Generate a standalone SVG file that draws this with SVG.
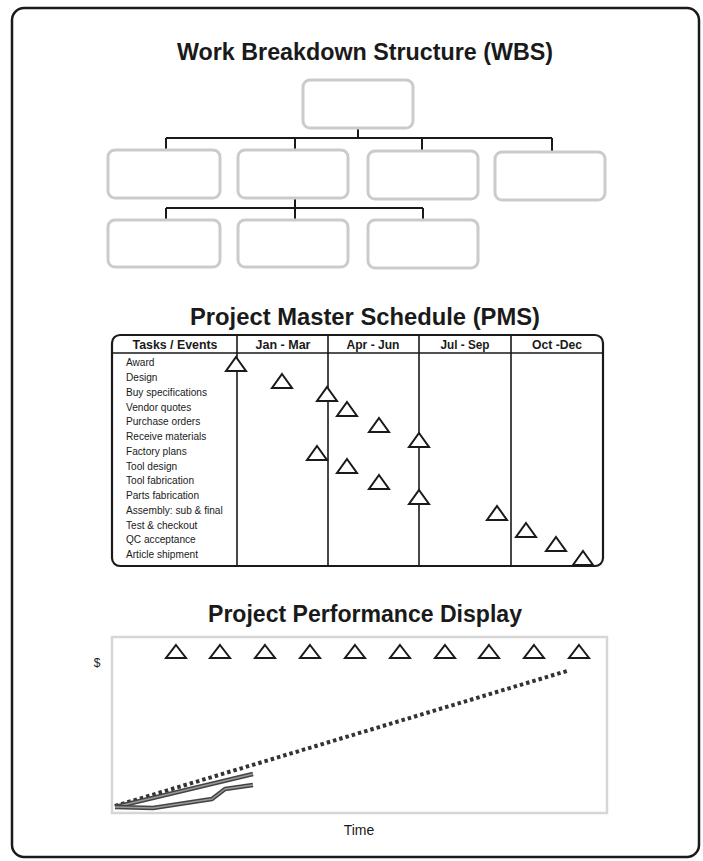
<svg xmlns="http://www.w3.org/2000/svg" width="703" height="861" viewBox="0 0 703 861">
<defs>
<style>
.title{font-family:"Liberation Sans",Arial,sans-serif;font-weight:bold;font-size:23px;fill:#1a1a1a;text-anchor:middle}
.wbs{fill:#fff;stroke:#cbcbcb;stroke-width:3}
.conn{stroke:#1a1a1a;stroke-width:2;fill:none}
.hdr{font-family:"Liberation Sans",Arial,sans-serif;font-weight:bold;font-size:13.5px;fill:#1a1a1a;text-anchor:middle}
.task{font-family:"Liberation Sans",Arial,sans-serif;font-size:11.5px;fill:#1a1a1a}
.tri{fill:#fff;stroke:#1a1a1a;stroke-width:2;stroke-linejoin:miter}
.grid{stroke:#1a1a1a;stroke-width:1.6;fill:none}
.lbl{font-family:"Liberation Sans",Arial,sans-serif;font-size:14px;fill:#1a1a1a;text-anchor:middle}
</style>
<path id="t" d="M0,0 L10,14 L-10,14 Z"/>
<path id="pt" d="M0,0 L10,13 L-10,13 Z"/>
</defs>
<rect x="12" y="8" width="687" height="849" rx="12" fill="#fff" stroke="#1a1a1a" stroke-width="2.5"/>

<!-- WBS -->
<text class="title" x="365" y="60" textLength="376" lengthAdjust="spacingAndGlyphs">Work Breakdown Structure (WBS)</text>
<g id="connectors">
<path class="conn" d="M358,128 V138 M166,138 H552 M166,138 V150 M295,138 V150 M422,138 V150 M552,138 V152"/>
<path class="conn" d="M295,198 V208 M166,208 H423 M166,208 V220 M295,208 V220 M423,208 V220"/>
</g>
<g id="wbs-root"><rect class="wbs" x="303" y="80" width="110" height="48" rx="7"/></g>
<g id="wbs-1"><rect class="wbs" x="108" y="150" width="112" height="48" rx="7"/></g>
<g id="wbs-2"><rect class="wbs" x="238" y="150" width="110" height="48" rx="7"/></g>
<g id="wbs-3"><rect class="wbs" x="368" y="151" width="110" height="48" rx="7"/></g>
<g id="wbs-4"><rect class="wbs" x="495" y="152" width="110" height="48" rx="7"/></g>
<g id="wbs-2-1"><rect class="wbs" x="108" y="220" width="112" height="47" rx="7"/></g>
<g id="wbs-2-2"><rect class="wbs" x="238" y="220" width="110" height="47" rx="7"/></g>
<g id="wbs-2-3"><rect class="wbs" x="368" y="220" width="110" height="48" rx="7"/></g>

<!-- PMS -->
<text class="title" x="365" y="325" textLength="350" lengthAdjust="spacingAndGlyphs">Project Master Schedule (PMS)</text>
<g id="pms-table">
<rect x="112" y="335" width="491" height="231" rx="8" fill="#fff" stroke="#1a1a1a" stroke-width="2.2"/>
<path class="grid" d="M112,353 H603 M237,335 V566 M328,335 V566 M419,335 V566 M511,335 V566"/>
<text class="hdr" x="175" y="349" textLength="85" lengthAdjust="spacingAndGlyphs">Tasks / Events</text>
<text class="hdr" x="283" y="349" textLength="55" lengthAdjust="spacingAndGlyphs">Jan - Mar</text>
<text class="hdr" x="373" y="349" textLength="53" lengthAdjust="spacingAndGlyphs">Apr - Jun</text>
<text class="hdr" x="465" y="349" textLength="49" lengthAdjust="spacingAndGlyphs">Jul - Sep</text>
<text class="hdr" x="557" y="349" textLength="50" lengthAdjust="spacingAndGlyphs">Oct -Dec</text>
</g>
<g id="pms-tasks" transform="translate(126,0) scale(0.88,1)">
<text class="task" x="0" y="366.3">Award</text>
<text class="task" x="0" y="381.1">Design</text>
<text class="task" x="0" y="395.8">Buy specifications</text>
<text class="task" x="0" y="410.6">Vendor quotes</text>
<text class="task" x="0" y="425.4">Purchase orders</text>
<text class="task" x="0" y="440.2">Receive materials</text>
<text class="task" x="0" y="454.9">Factory plans</text>
<text class="task" x="0" y="469.7">Tool design</text>
<text class="task" x="0" y="484.5">Tool fabrication</text>
<text class="task" x="0" y="499.2">Parts fabrication</text>
<text class="task" x="0" y="514.0">Assembly: sub &amp; final</text>
<text class="task" x="0" y="528.8">Test &amp; checkout</text>
<text class="task" x="0" y="543.5">QC acceptance</text>
<text class="task" x="0" y="558.3">Article shipment</text>
</g>
<g id="pms-milestones">
<use href="#t" class="tri" x="236" y="357"/>
<use href="#t" class="tri" x="282" y="374"/>
<use href="#t" class="tri" x="327" y="387"/>
<use href="#t" class="tri" x="347" y="402"/>
<use href="#t" class="tri" x="379" y="418"/>
<use href="#t" class="tri" x="419" y="433"/>
<use href="#t" class="tri" x="317" y="446"/>
<use href="#t" class="tri" x="347" y="459"/>
<use href="#t" class="tri" x="379" y="475"/>
<use href="#t" class="tri" x="419" y="490"/>
<use href="#t" class="tri" x="497" y="506"/>
<use href="#t" class="tri" x="526" y="523"/>
<use href="#t" class="tri" x="556" y="537"/>
<use href="#t" class="tri" x="583" y="551"/>
</g>

<!-- Performance -->
<text class="title" x="365" y="622" textLength="314" lengthAdjust="spacingAndGlyphs">Project Performance Display</text>
<g id="perf-chart">
<rect x="112" y="637" width="495" height="176" fill="#fff" stroke="#d6d6d6" stroke-width="2.5"/>
<text x="97" y="667" font-family="Liberation Sans, Arial, sans-serif" font-size="12" fill="#1a1a1a" text-anchor="middle">$</text>
<text class="lbl" x="359" y="835">Time</text>
<use href="#pt" class="tri" x="176" y="645"/>
<use href="#pt" class="tri" x="220" y="645"/>
<use href="#pt" class="tri" x="265" y="645"/>
<use href="#pt" class="tri" x="310" y="645"/>
<use href="#pt" class="tri" x="355" y="645"/>
<use href="#pt" class="tri" x="400" y="645"/>
<use href="#pt" class="tri" x="445" y="645"/>
<use href="#pt" class="tri" x="489" y="645"/>
<use href="#pt" class="tri" x="534" y="645"/>
<use href="#pt" class="tri" x="579" y="645"/>
<path d="M115,806 L567,671" stroke="#333" stroke-width="4" stroke-dasharray="3.5 3" fill="none"/>
<path d="M115,807 L253,774" stroke="#444" stroke-width="4.5" fill="none"/>
<path d="M115,807 L253,774" stroke="#9a9a9a" stroke-width="1.5" fill="none"/>
<path d="M115,807 L153,808 L212,799 L225,789 L253,785" stroke="#444" stroke-width="4.5" fill="none" stroke-linejoin="round"/>
<path d="M115,807 L153,808 L212,799 L225,789 L253,785" stroke="#9a9a9a" stroke-width="1.5" fill="none" stroke-linejoin="round"/>
</g>
</svg>
